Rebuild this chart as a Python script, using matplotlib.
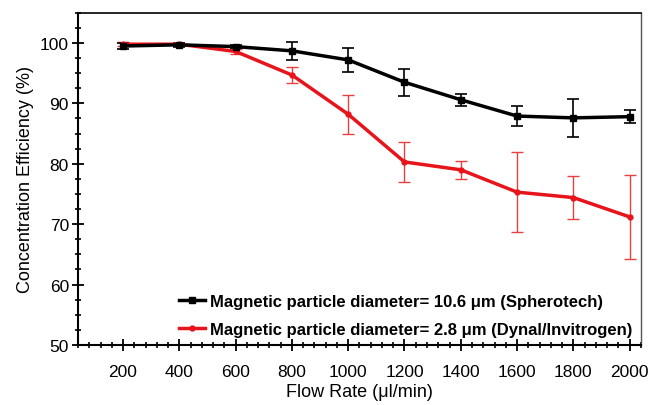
import matplotlib
matplotlib.use("Agg")
import matplotlib.pyplot as plt
from matplotlib.ticker import MultipleLocator

plt.rcParams['font.family'] = ['Liberation Sans', 'DejaVu Sans']

flow = [200, 400, 600, 800, 1000, 1200, 1400, 1600, 1800, 2000]

black_eff = [99.5, 99.7, 99.4, 98.7, 97.2, 93.5, 90.6, 87.9, 87.6, 87.8]
black_err = [0.5, 0.3, 0.3, 1.5, 2.0, 2.2, 1.0, 1.7, 3.1, 1.1]
black_label = "Magnetic particle diameter= 10.6 \u03bcm (Spherotech)"

red_eff = [99.8, 99.8, 98.6, 94.7, 88.2, 80.3, 79.0, 75.3, 74.4, 71.2]
red_err = [0.3, 0.2, 0.4, 1.3, 3.2, 3.3, 1.5, 6.6, 3.6, 7.0]
red_label = "Magnetic particle diameter= 2.8 \u03bcm (Dynal/Invitrogen)"

fig = plt.figure(figsize=(6.5, 4.06), dpi=100)
ax = fig.add_axes([0.12, 0.148, 0.866, 0.818])

# error bars first, lines with labels on top (legend shows plain line+marker)
ax.errorbar(flow, black_eff, yerr=black_err, fmt="none", ecolor="black",
            capsize=4, elinewidth=1.2, capthick=1.2, zorder=3)
ax.errorbar(flow, red_eff, yerr=red_err, fmt="none", ecolor="#e84040",
            capsize=4, elinewidth=1.0, capthick=1.0, zorder=2)
ax.plot(flow, black_eff, color="black", lw=2.5, marker="s", ms=4,
        label=black_label, zorder=4)
ax.plot(flow, red_eff, color="#e8141b", lw=2.5, marker="o", ms=3.5,
        label=red_label, zorder=3)

ax.set_xlim(40, 2040)
ax.set_ylim(50, 105)
ax.set_xticks(flow)
ax.set_yticks([50, 60, 70, 80, 90, 100])
ax.xaxis.set_minor_locator(MultipleLocator(40))
ax.yaxis.set_minor_locator(MultipleLocator(2.5))
ax.tick_params(which="major", direction="inout", length=9, width=1.3, labelsize=12.5)
ax.tick_params(which="minor", direction="inout", length=5, width=1.2)
ax.tick_params(axis="x", pad=9)
ax.tick_params(axis="y", pad=2)

for s in ["left", "bottom"]:
    ax.spines[s].set_linewidth(1.5)
ax.spines["top"].set_linewidth(1.2)
ax.spines["right"].set_color("#555555")
ax.spines["right"].set_linewidth(1.0)

ax.set_xlabel("Flow Rate (\u03bcl/min)", fontsize=13, labelpad=3)
ax.set_ylabel("Concentration Efficiency (%)", fontsize=13, labelpad=4)

leg = ax.legend(loc="lower right", frameon=False, handlelength=1.6,
                prop={"size": 12, "weight": "semibold"}, borderaxespad=0.1,
                labelspacing=0.75, handletextpad=0.3)

fig.savefig("out.png", dpi=100)
